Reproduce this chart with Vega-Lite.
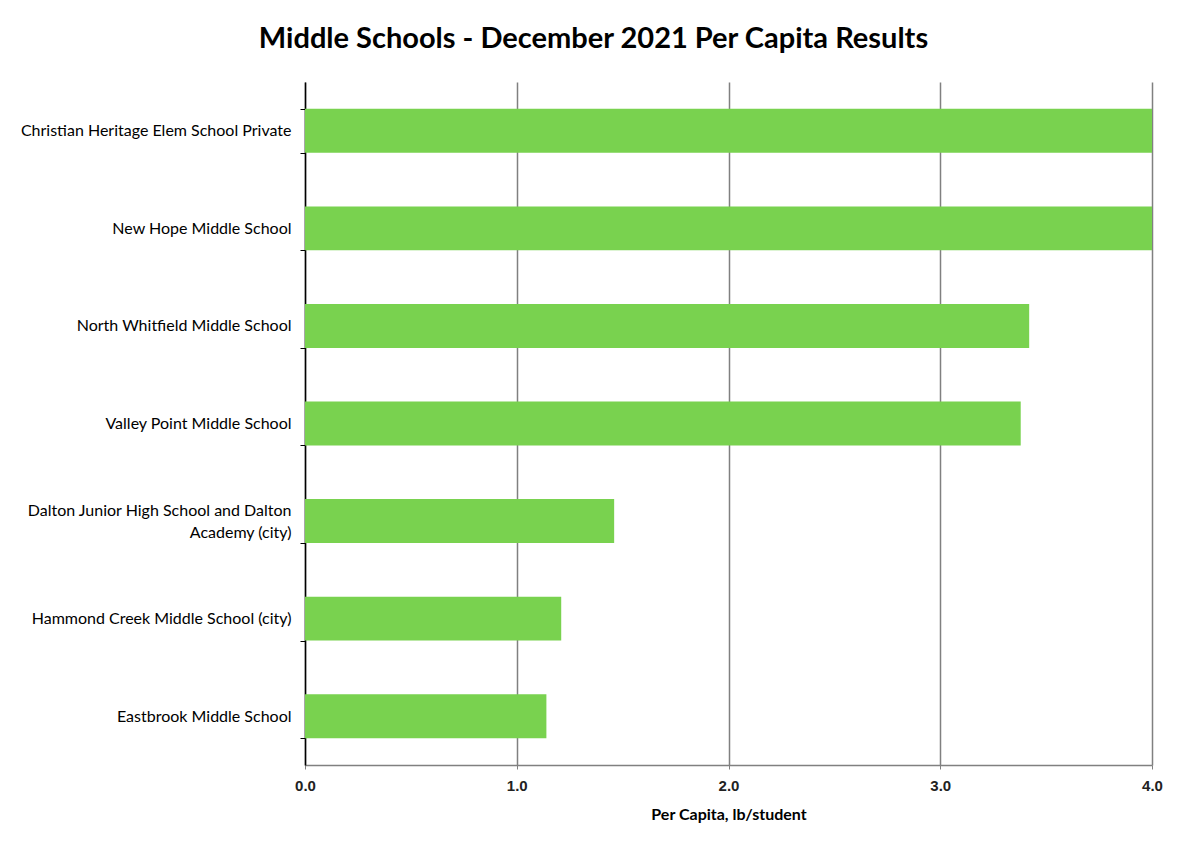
{
  "$schema": "https://vega.github.io/schema/vega-lite/v6.json",
  "width": 847,
  "height": 683,
  "autosize": {"type": "none"},
  "padding": {"left": 305, "top": 82, "right": 39, "bottom": 102},
  "background": "white",
  "title": {
    "text": "Middle Schools - December 2021 Per Capita Results",
    "font": "Lato",
    "fontSize": 29,
    "fontWeight": "bold",
    "color": "#000000",
    "anchor": "middle",
    "dx": -135,
    "offset": 20
  },
  "data": {
    "values": [
      {"school": "Christian Heritage Elem School Private", "per_capita": 4.0},
      {"school": "New Hope Middle School", "per_capita": 4.0},
      {"school": "North Whitfield Middle School", "per_capita": 3.42},
      {"school": "Valley Point Middle School", "per_capita": 3.38},
      {"school": "Dalton Junior High School and Dalton Academy (city)", "per_capita": 1.46},
      {"school": "Hammond Creek Middle School (city)", "per_capita": 1.21},
      {"school": "Eastbrook Middle School", "per_capita": 1.14}
    ]
  },
  "mark": {"type": "bar", "color": "#79D24F", "clip": true},
  "encoding": {
    "y": {
      "field": "school",
      "type": "nominal",
      "sort": null,
      "scale": {"paddingInner": 0.55, "paddingOuter": 0.275},
      "axis": {
        "title": null,
        "tickBand": "extent",
        "tickSize": 5,
        "tickColor": "#000000",
        "domainColor": "#000000",
        "domainWidth": 1.5,
        "labelPadding": 9,
        "labelFont": "Lato",
        "labelFontSize": 16,
        "labelColor": "#000000",
        "labelLimit": 400,
        "labelLineHeight": 22,
        "labelOffset": {"condition": {"test": "datum.value == 'Dalton Junior High School and Dalton Academy (city)'", "value": -11}, "value": 0},
        "labelExpr": "datum.value == 'Dalton Junior High School and Dalton Academy (city)' ? ['Dalton Junior High School and Dalton', 'Academy (city)'] : datum.label"
      }
    },
    "x": {
      "field": "per_capita",
      "type": "quantitative",
      "scale": {"domain": [0, 4], "nice": false},
      "axis": {
        "title": "Per Capita, lb/student",
        "titleFont": "Lato",
        "titleFontSize": 16,
        "titleFontWeight": "bold",
        "titleColor": "#000000",
        "titlePadding": 13,
        "values": [0, 1, 2, 3, 4],
        "format": ".1f",
        "labelFlush": false,
        "labelFont": "Liberation Sans",
        "labelFontSize": 15,
        "labelFontWeight": "bold",
        "labelColor": "#222222",
        "labelPadding": 9,
        "tickSize": 4,
        "tickColor": "#808080",
        "domainColor": "#808080",
        "domainWidth": 1.5,
        "grid": true,
        "gridColor": "#808080",
        "gridWidth": 1.5
      }
    }
  },
  "config": {
    "view": {"stroke": null}
  }
}
